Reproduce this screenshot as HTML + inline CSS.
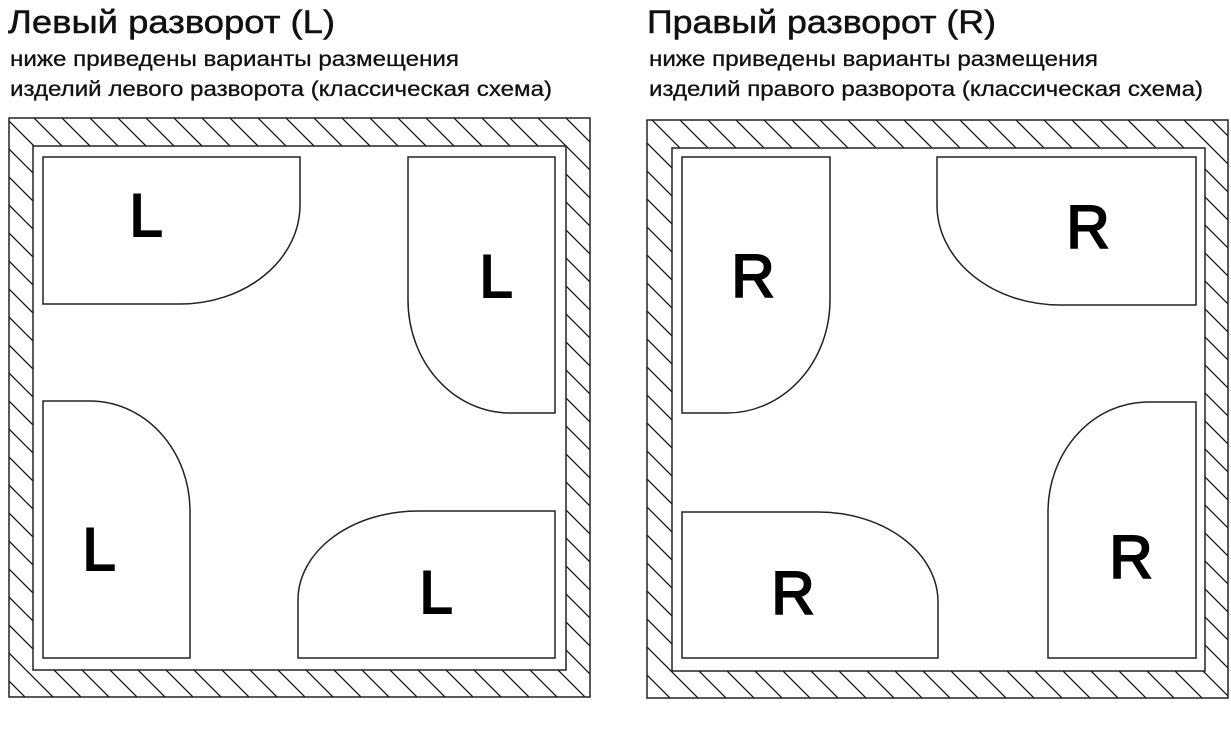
<!DOCTYPE html>
<html><head><meta charset="utf-8"><style>html,body{margin:0;padding:0;background:#fff}svg{display:block}</style></head>
<body>
<svg width="1231" height="751" viewBox="0 0 1231 751" xmlns="http://www.w3.org/2000/svg" font-family="'Liberation Sans', sans-serif">
<defs>
<pattern id="h" patternUnits="userSpaceOnUse" width="28" height="28">
<path d="M-7,-7 L35,35 M-7,21 L7,35 M21,-7 L35,7" stroke="#111" stroke-width="1.3" fill="none"/>
</pattern>
</defs>
<g fill="#111" stroke="#111" stroke-width="0.5">
<text x="8" y="33" font-size="32" textLength="327" lengthAdjust="spacingAndGlyphs">Левый разворот (L)</text>
<text x="10" y="66" font-size="21" textLength="449" lengthAdjust="spacingAndGlyphs" stroke-width="0.3">ниже приведены варианты размещения</text>
<text x="10" y="96" font-size="21" textLength="542" lengthAdjust="spacingAndGlyphs" stroke-width="0.3">изделий левого разворота (классическая схема)</text>
<text x="647" y="33" font-size="32" textLength="349" lengthAdjust="spacingAndGlyphs">Правый разворот (R)</text>
<text x="649" y="66" font-size="21" textLength="449" lengthAdjust="spacingAndGlyphs" stroke-width="0.3">ниже приведены варианты размещения</text>
<text x="649" y="96" font-size="21" textLength="554" lengthAdjust="spacingAndGlyphs" stroke-width="0.3">изделий правого разворота (классическая схема)</text>
</g>
<path d="M9,118 H590 V697 H9 Z M33,146 H566 V670 H33 Z" fill="url(#h)" fill-rule="evenodd" stroke="#222" stroke-width="1.5"/>
<path d="M647,120 H1228 V698 H647 Z M672,148 H1205 V671 H672 Z" fill="url(#h)" fill-rule="evenodd" stroke="#222" stroke-width="1.5"/>
<g fill="#fff" stroke="#222" stroke-width="1.5">
<path d="M43,157 H300 V205 A120,99 0 0 1 180,304 H43 Z"/>
<path d="M408,157 H555 V413 H510 A102,113 0 0 1 408,300 Z"/>
<path d="M43,401 H90 A100,110 0 0 1 190,511 V658 H43 Z"/>
<path d="M298,658 V600 A120,89 0 0 1 418,511 H555 V658 Z"/>
<path d="M682,157 H830 V300 A103,113 0 0 1 727,413 H682 Z"/>
<path d="M937,157 H1196 V305 H1060 A123,100 0 0 1 937,205 Z"/>
<path d="M1048,658 V512 A100,110 0 0 1 1148,402 H1196 V658 Z"/>
<path d="M682,512 H818 A120,90 0 0 1 938,602 V658 H682 Z"/>
</g>
<g fill="#000" stroke="#000" stroke-width="2" font-size="60" text-anchor="middle">
<text x="146" y="236">L</text>
<text x="496" y="297">L</text>
<text x="99" y="570">L</text>
<text x="436" y="613">L</text>
<text x="753" y="297">R</text>
<text x="1088" y="248">R</text>
<text x="1131" y="578">R</text>
<text x="793" y="614">R</text>
</g>
</svg>
</body></html>
